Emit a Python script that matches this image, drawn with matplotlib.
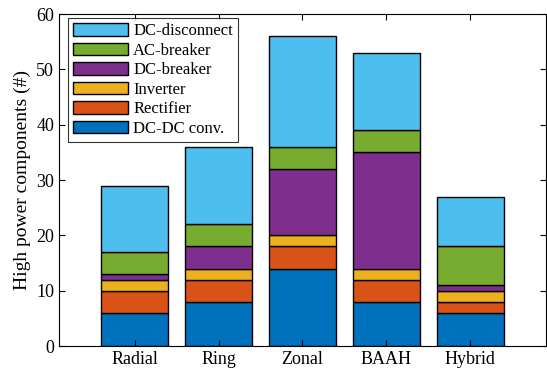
import numpy as np
import matplotlib
matplotlib.use("Agg")
import matplotlib.pyplot as plt

# 数据
topologies = ["Radial", "Ring", "Zonal", "BAAH", "Hybrid"]
dcdc_conv = [6, 8, 14, 8, 6]
rectifier = [4, 4, 4, 4, 2]
inverter = [2, 2, 2, 2, 2]
dc_breaker = [1, 4, 12, 21, 1]
ac_breaker = [4, 4, 4, 4, 7]
dc_disconnect = [12, 14, 20, 14, 9]

series = [
    ("DC-DC conv.", dcdc_conv, "#0072BD"),
    ("Rectifier", rectifier, "#D95319"),
    ("Inverter", inverter, "#EDB120"),
    ("DC-breaker", dc_breaker, "#7E2F8E"),
    ("AC-breaker", ac_breaker, "#77AC30"),
    ("DC-disconnect", dc_disconnect, "#4DBEEE"),
]

plt.rcParams['font.family'] = ['Liberation Serif', 'DejaVu Serif']

fig = plt.figure(figsize=(5.47, 3.79), dpi=100)
ax = fig.add_axes([0.108, 0.087, 0.89, 0.876])

x = np.arange(1, len(topologies) + 1)
bottom = np.zeros(len(topologies))
for name, vals, color in series:
    ax.bar(x, vals, 0.8, bottom=bottom, color=color, edgecolor="black",
           linewidth=1.0, label=name)
    bottom += np.array(vals)

ax.set_xlim(0.1, 5.9)
ax.set_ylim(0, 60)
ax.set_xticks(x)
ax.set_xticklabels(topologies)
ax.set_yticks(np.arange(0, 61, 10))
ax.set_ylabel("High power components (#)", fontsize=14)
ax.tick_params(direction="in", top=True, right=True, labelsize=13, length=4)

handles, labels = ax.get_legend_handles_labels()
leg = ax.legend(handles[::-1], labels[::-1], loc="upper left", fontsize=12,
                bbox_to_anchor=(0.0185, 0.988), borderaxespad=0,
                frameon=True, fancybox=False, edgecolor="black",
                handlelength=3.3, handleheight=0.8, labelspacing=0.2,
                handletextpad=0.3, borderpad=0.3)
leg.get_frame().set_linewidth(0.8)

plt.savefig("out.png", dpi=100)
